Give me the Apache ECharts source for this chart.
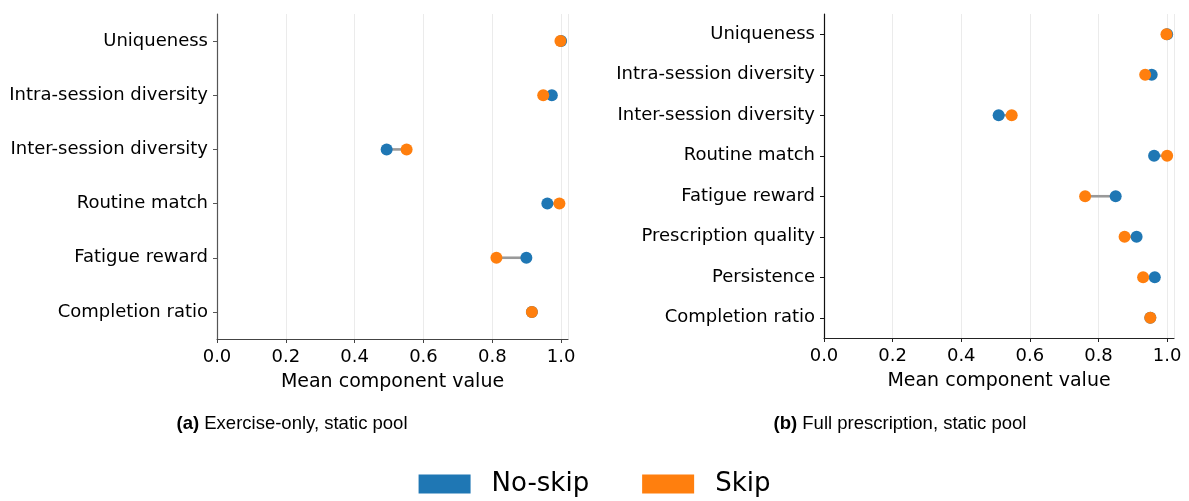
<!DOCTYPE html>
<html>
<head>
<meta charset="utf-8">
<script src="https://cdn.jsdelivr.net/npm/echarts@6/dist/echarts.min.js"></script>
<style>html,body{margin:0;padding:0;background:#fff}#c{width:1189px;height:501px}</style>
</head>
<body>
<div id="c"></div>
<script>
const catsA = ["Uniqueness", "Intra-session diversity", "Inter-session diversity", "Routine match", "Fatigue reward", "Completion ratio"];
const noSkipA = [1.000, 0.973, 0.493, 0.960, 0.899, 0.915];
const skipA   = [0.998, 0.948, 0.551, 0.995, 0.812, 0.915];

const catsB = ["Uniqueness", "Intra-session diversity", "Inter-session diversity", "Routine match", "Fatigue reward", "Prescription quality", "Persistence", "Completion ratio"];
const noSkipB = [1.000, 0.955, 0.509, 0.962, 0.850, 0.911, 0.964, 0.951];
const skipB   = [0.998, 0.936, 0.547, 1.000, 0.761, 0.876, 0.930, 0.951];

const xTicks = [0, 0.2, 0.4, 0.6, 0.8, 1.0];
const captionA = ["(a)", "Exercise-only, static pool"];
const captionB = ["(b)", "Full prescription, static pool"];
const seriesNames = ["No-skip", "Skip"];

const BLUE = "#1f77b4", ORANGE = "#ff7f0e";
const FONT = "DejaVu Sans";

function xAxis(idx, spine) {
  return {
    type: "value", gridIndex: idx, min: 0, max: 1.02, interval: 0.2,
    name: "Mean component value", nameLocation: "middle", nameGap: 34,
    nameTextStyle: {fontFamily: FONT, fontSize: 19, color: "#000"},
    axisLine: {show: true, lineStyle: {color: spine, width: 1.2}},
    axisTick: {show: true, length: 4, lineStyle: {color: spine}},
    axisLabel: {fontFamily: FONT, fontSize: 18, color: "#000", margin: 9, showMaxLabel: false,
      formatter: v => (xTicks.some(t => Math.abs(t - v) < 1e-9) ? v.toFixed(1) : "")},
    splitLine: {show: true, lineStyle: {color: "#ebebeb", width: 1}}
  };
}
function yAxis(idx, cats, spine) {
  return {
    type: "category", gridIndex: idx, data: cats, inverse: true, boundaryGap: true,
    axisLine: {show: true, lineStyle: {color: spine, width: 1.2}},
    axisTick: {show: true, alignWithLabel: true, length: 4, lineStyle: {color: spine}},
    axisLabel: {fontFamily: FONT, fontSize: 18, color: "#000", margin: 9},
    splitLine: {show: false}
  };
}
function connector(idx, noSkip, skip) {
  return {
    type: "custom", xAxisIndex: idx, yAxisIndex: idx, silent: true, z: 1,
    data: noSkip.map((v, i) => [i, v, skip[i]]),
    renderItem: function (params, api) {
      const p1 = api.coord([api.value(1), api.value(0)]);
      const p2 = api.coord([api.value(2), api.value(0)]);
      return {type: "line", shape: {x1: p1[0], y1: p1[1], x2: p2[0], y2: p2[1]},
        style: {stroke: "#999", lineWidth: 2.6}};
    }
  };
}
function dots(idx, name, vals, color, z) {
  return {
    type: "scatter", name: name, xAxisIndex: idx, yAxisIndex: idx, z: z,
    symbol: "circle", symbolSize: 12,
    itemStyle: {color: color, opacity: 1},
    data: vals.map((v, i) => [v, i])
  };
}
function caption(c, x) {
  return {text: "{b|" + c[0] + "} " + c[1], left: x, top: 414, textAlign: "center", padding: 0,
    textStyle: {fontFamily: "Liberation Sans", fontSize: 18.5, fontWeight: "normal", color: "#000",
      rich: {b: {fontFamily: "Liberation Sans", fontSize: 18.5, fontWeight: "bold", color: "#000"}}}};
}

const chart = echarts.init(document.getElementById("c"), null, {renderer: "canvas"});
chart.setOption({
  animation: false,
  backgroundColor: "#fff",
  grid: [
    {left: 217, top: 14, width: 351, height: 325},
    {left: 824, top: 14, width: 350, height: 324}
  ],
  xAxis: [xAxis(0, "#444"), xAxis(1, "#222")],
  yAxis: [yAxis(0, catsA, "#555"), yAxis(1, catsB, "#111")],
  legend: {
    data: seriesNames, top: 466, left: "center", icon: "rect",
    itemWidth: 52, itemHeight: 19, itemGap: 53,
    textStyle: {fontFamily: FONT, fontSize: 26, color: "#000", padding: [0, 0, 0, 16]}
  },
  title: [caption(captionA, 292), caption(captionB, 900)],
  series: [
    connector(0, noSkipA, skipA),
    dots(0, seriesNames[0], noSkipA, BLUE, 2),
    dots(0, seriesNames[1], skipA, ORANGE, 3),
    connector(1, noSkipB, skipB),
    dots(1, seriesNames[0], noSkipB, BLUE, 2),
    dots(1, seriesNames[1], skipB, ORANGE, 3)
  ]
});
</script>
</body>
</html>
